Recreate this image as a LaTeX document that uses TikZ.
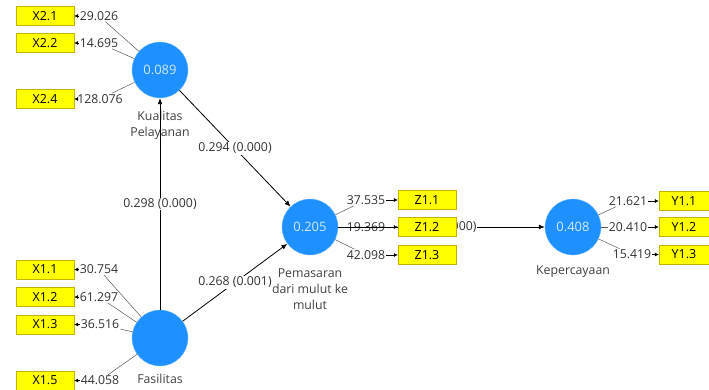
\documentclass[tikz,border=0pt]{standalone}
\usepackage{fontspec}
\setmainfont{Open Sans}
\usetikzlibrary{arrows.meta}
\definecolor{lvblue}{HTML}{1E90FF}
\definecolor{mvyellow}{HTML}{FFFF00}
\definecolor{mvedge}{HTML}{C8B400}

\begin{document}
\begin{tikzpicture}[
  x=1pt, y=-1pt,
  latent/.style={circle, fill=lvblue, draw=lvblue!60!white, minimum size=56pt, inner sep=0pt, font=\fontsize{13}{15}\selectfont, text=white!80!lvblue},
  mv/.style={rectangle, fill=mvyellow, draw=mvedge, minimum width=58pt, minimum height=19pt, inner sep=0pt, font=\fontsize{12.5}{14}\selectfont},
  val/.style={inner sep=1pt, font=\fontsize{12.3}{14}\selectfont, text=black!80},
  coef/.style={fill=white, inner sep=1pt, font=\fontsize{12.3}{14}\selectfont, text=black!80},
  lvname/.style={align=center, inner sep=1pt, font=\fontsize{12.3}{16}\selectfont, text=black!75},
  load/.style={draw=black!65, line width=0.5pt},
  tip/.style={-{Latex[length=4pt,width=4pt]}, line width=0.5pt},
  >={Latex[length=6pt,width=5pt]},
  node distance=54pt
]
\useasboundingbox (0,0) rectangle (709,389);

% latent variables
\node[latent] (kp) at (160,70) {0.089};
\node[latent] (fas) at (160,338) {};
\node[latent] (pem) at (310,227) {0.205};
\node[latent] (kep) at (573,227) {0.408};

\node[lvname] (kp_name) at (160,125) {Kualitas\\Pelayanan};
\node[lvname] (fas_name) at (160,379) {Fasilitas};
\node[lvname] (pem_name) at (310,289) {Pemasaran\\dari mulut ke\\mulut};
\node[lvname] (kep_name) at (573,272) {Kepercayaan};

% indicators X2
\node[mv] (x21) at (45,16) {X2.1};
\node[mv] (x22) at (45,43) {X2.2};
\node[mv] (x24) at (45,99) {X2.4};
\node[val, right of=x21] (l_x21) {29.026};
\node[val, right of=x22] (l_x22) {14.695};
\node[val, right of=x24, node distance=55pt] (l_x24) {128.076};

% indicators X1
\node[mv] (x11) at (45,269.5) {X1.1};
\node[mv] (x12) at (45,297) {X1.2};
\node[mv] (x13) at (45,324.5) {X1.3};
\node[mv] (x15) at (45,380.5) {X1.5};
\node[val, right of=x11] (l_x11) {30.754};
\node[val, right of=x12] (l_x12) {61.297};
\node[val, right of=x13, node distance=55pt] (l_x13) {36.516};
\node[val, right of=x15, node distance=55pt] (l_x15) {44.058};

\draw[load] (kp) -- (l_x21);
\draw[load] (kp) -- (l_x22);
\draw[load] (kp) -- (l_x24);
\draw[load] (fas) -- (l_x11);
\draw[load] (fas) -- (l_x12);
\draw[load] (fas) -- (l_x13);
\draw[load] (fas) -- (l_x15);
\draw[tip] (l_x21) -- (x21);
\draw[tip] (l_x22) -- (x22);
\draw[tip] (l_x24) -- (x24);
\draw[tip] (l_x11) -- (x11);
\draw[tip] (l_x12) -- (x12);
\draw[tip] (l_x13) -- (x13);
\draw[tip] (l_x15) -- (x15);

% paths
\draw[->, thick] (kp) -- node[coef] {0.294 (0.000)} (pem);
\draw[->, thick] (fas) -- node[coef] {0.298 (0.000)} (kp);
\draw[->, thick] (fas) -- node[coef] {0.268 (0.001)} (pem);

% indicators Z1
\node[val] (l_z11) at (366,200) {37.535};
\node[val] (l_z12) at (366,227) {19.369};
\node[val] (l_z13) at (366,255) {42.098};
\draw[load] (pem) -- (l_z11);
\draw[load] (pem) -- (l_z13);
\draw[->, thick] (pem) -- node[coef, pos=0.676, anchor=east] {(0.000)} (kep);
\node[mv, right of=l_z11, node distance=61pt] (z11) {Z1.1};
\node[mv, right of=l_z12, node distance=61pt] (z12) {Z1.2};
\node[mv, right of=l_z13, node distance=61pt] (z13) {Z1.3};
\draw[tip] (l_z11) -- (z11);
\draw[tip] (l_z12) -- (z12);
\draw[tip] (l_z13) -- (z13);

% indicators Y1
\node[mv, minimum width=50pt] (y11) at (684,201) {Y1.1};
\node[mv, minimum width=50pt] (y12) at (684,227) {Y1.2};
\node[mv, minimum width=50pt] (y13) at (684,254.5) {Y1.3};
\node[val, left of=y11, node distance=56pt] (l_y11) {21.621};
\node[val, left of=y12, node distance=56pt] (l_y12) {20.410};
\node[val, left of=y13, node distance=52pt] (l_y13) {15.419};
\draw[load] (kep) -- (l_y11);
\draw[load] (kep) -- (l_y12);
\draw[load] (kep) -- (l_y13);
\draw[tip] (l_y11) -- (y11);
\draw[tip] (l_y12) -- (y12);
\draw[tip] (l_y13) -- (y13);
\end{tikzpicture}
\end{document}
